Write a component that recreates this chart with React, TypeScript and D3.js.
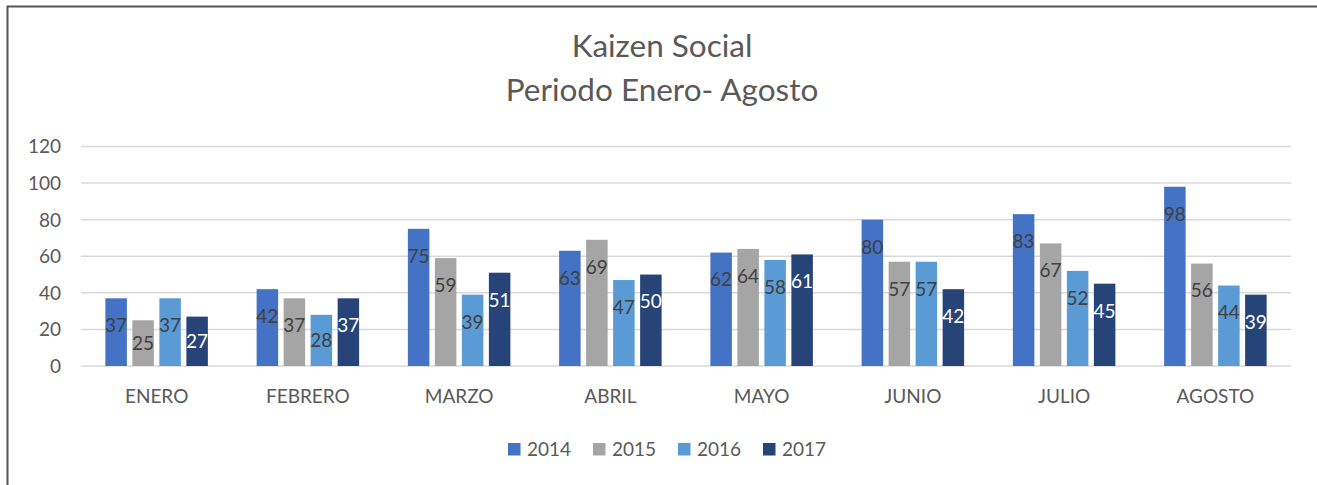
import React from "react";
import * as d3 from "d3";

const categories = ["ENERO", "FEBRERO", "MARZO", "ABRIL", "MAYO", "JUNIO", "JULIO", "AGOSTO"];
const seriesNames = ["2014", "2015", "2016", "2017"];
const values2014 = [37, 42, 75, 63, 62, 80, 83, 98];
const values2015 = [25, 37, 59, 69, 64, 57, 67, 56];
const values2016 = [37, 28, 39, 47, 58, 57, 52, 44];
const values2017 = [27, 37, 51, 50, 61, 42, 45, 39];
const yTicks = [0, 20, 40, 60, 80, 100, 120];
const titleLines = ["Kaizen Social", "Periodo Enero- Agosto"];

const seriesValues = [values2014, values2015, values2016, values2017];
const colors = ["#4472C4", "#A5A5A5", "#5B9BD5", "#264478"];
const labelColors = ["#404040", "#404040", "#404040", "#FFFFFF"];

const W = 1317;
const H = 485;
const FONT = "Lato, 'Open Sans', sans-serif";

export default function App() {
  const x0 = d3.scaleBand<string>().domain(categories).range([81, 1291]).paddingInner(0).paddingOuter(0);
  const y = d3.scaleLinear().domain([0, 120]).range([366, 146.5]);
  const bw = x0.bandwidth();
  const slot = 27;
  const barW = 21.5;
  const groupW = slot * 3 + barW;
  const off = (bw - groupW) / 2;
  const x1 = d3.scaleBand<string>().domain(seriesNames).range([off, off + slot * 4]).padding(0);

  const legendX = d3.scaleBand<string>().domain(seriesNames).range([508, 508 + 85 * 4]);

  return (
    <svg width={W} height={H} style={{ position: "absolute", left: 0, top: 0, background: "#fff" }} fontFamily={FONT}>
      <rect x={0} y={0} width={W} height={H} fill="#fff" />
      <rect x={7.5} y={6.5} width={W + 20} height={H + 20} fill="none" stroke="#555" strokeWidth={2} />
      {titleLines.map((t, i) => (
        <text key={i} x={662} y={57 + i * 44} textAnchor="middle" fontSize={31.5} fill="#595959">
          {t}
        </text>
      ))}
      {yTicks.map((t) => (
        <g key={t}>
          <line x1={81} x2={1291} y1={y(t)} y2={y(t)} stroke="#D9D9D9" strokeWidth={1.5} />
          <text x={61} y={y(t)} dy="0.36em" textAnchor="end" fontSize={19} fill="#595959">
            {t}
          </text>
        </g>
      ))}
      {categories.map((c, ci) => (
        <g key={c} transform={`translate(${x0(c)},0)`}>
          {seriesNames.map((s, si) => {
            const v = seriesValues[si][ci];
            const top = y(v);
            const h = y(0) - top;
            const cx = (x1(s) as number) + barW / 2;
            const ly = top + Math.min(27, h / 2);
            return (
              <g key={s}>
                <rect x={x1(s)} y={top} width={barW} height={h} fill={colors[si]} />
                <text x={cx} y={ly} dy="0.36em" textAnchor="middle" fontSize={19} fill={labelColors[si]}>
                  {v}
                </text>
              </g>
            );
          })}
          <text x={bw / 2} y={403} textAnchor="middle" fontSize={19} fill="#595959">
            {c}
          </text>
        </g>
      ))}
      {seriesNames.map((s, si) => (
        <g key={s} transform={`translate(${legendX(s)},0)`}>
          <rect x={0} y={443} width={12.5} height={12.5} fill={colors[si]} />
          <text x={19} y={456} fontSize={19} fill="#595959">
            {s}
          </text>
        </g>
      ))}
    </svg>
  );
}
